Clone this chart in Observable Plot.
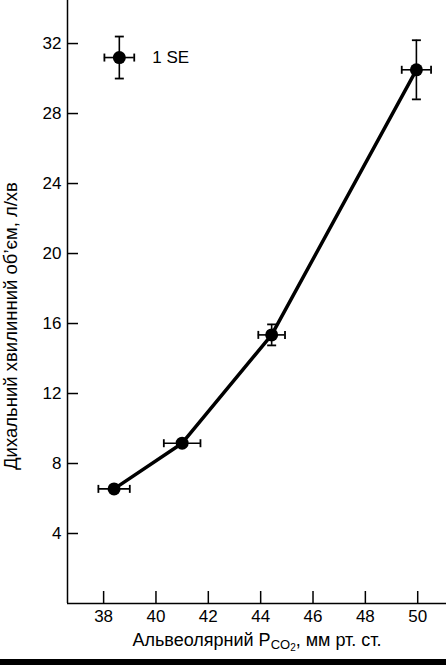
<!DOCTYPE html>
<html>
<head>
<meta charset="utf-8">
<script src="https://cdn.jsdelivr.net/npm/d3@7"></script>
<script src="https://cdn.jsdelivr.net/npm/@observablehq/plot@0.6"></script>
<style>
  html, body { margin: 0; padding: 0; background: #fff; }
  #chart { width: 446px; }
  #bar { width: 446px; height: 6px; background: #000; }
  svg { display: block; font-family: "Liberation Sans", Arial, sans-serif; }
</style>
</head>
<body>
<div id="chart"></div>
<div id="bar"></div>
<script>
// Data
const pco2 = [38.4, 41.0, 44.42, 49.95];          // Альвеолярний PCO2, мм рт. ст.
const ventilation = [6.55, 9.16, 15.35, 30.5];    // Дихальний хвилинний об'єм, л/хв
const pco2SE = [0.6, 0.7, 0.51, 0.56];
const ventSE = [0, 0, 0.6, 1.69];

const legendX = [38.6];
const legendY = [31.2];
const legendXSE = [0.57];
const legendYSE = [1.2];
const legendText = ["1 SE"];

const xTicks = [38, 40, 42, 44, 46, 48, 50];
const yTicks = [4, 8, 12, 16, 20, 24, 28, 32];
const xDomain = [36.62, 51.1];
const yDomain = [0, 34.46];

const xLabel = "Альвеолярний PCO2, мм рт. ст.";
const yLabel = "Дихальний хвилинний об’єм, л/хв";

const points = pco2.map((x, i) => ({x, y: ventilation[i], xe: pco2SE[i], ye: ventSE[i]}));
const legend = legendX.map((x, i) => ({x, y: legendY[i], xe: legendXSE[i], ye: legendYSE[i], t: legendText[i]}));
const all = points.concat(legend);
const withY = all.filter(d => d.ye > 0);

const vCap = {draw(ctx) { ctx.moveTo(0, -4); ctx.lineTo(0, 4); }};
const hCap = {draw(ctx) { ctx.moveTo(-4.5, 0); ctx.lineTo(4.5, 0); }};

const plot = Plot.plot({
  width: 446,
  height: 659,
  marginLeft: 67,
  marginRight: 0,
  marginTop: 0,
  marginBottom: 56,
  style: {fontFamily: "'Liberation Sans', Arial, sans-serif", fontSize: "17px", color: "#000", background: "#fff"},
  x: {domain: xDomain},
  y: {domain: yDomain},
  marks: [
    Plot.axisX({ticks: xTicks, tickSize: -12, tickPadding: 18, tickFormat: d => String(d), label: null, strokeWidth: 1.5, fontSize: 17}),
    Plot.axisY({ticks: yTicks, tickSize: -11, tickPadding: 17, tickFormat: d => String(d), label: null, strokeWidth: 1.5, fontSize: 17}),
    Plot.ruleY([0], {strokeWidth: 1.5}),
    Plot.ruleX([xDomain[0]], {strokeWidth: 1.5}),
    Plot.line(points, {x: "x", y: "y", strokeWidth: 3.5, stroke: "#000"}),
    // horizontal error bars
    Plot.ruleY(all, {y: "y", x1: d => d.x - d.xe, x2: d => d.x + d.xe, strokeWidth: 1.6, stroke: "#000"}),
    Plot.dot(all, {x: d => d.x - d.xe, y: "y", symbol: vCap, stroke: "#000", strokeWidth: 1.8, fill: "none", r: 4}),
    Plot.dot(all, {x: d => d.x + d.xe, y: "y", symbol: vCap, stroke: "#000", strokeWidth: 1.8, fill: "none", r: 4}),
    // vertical error bars
    Plot.ruleX(withY, {x: "x", y1: d => d.y - d.ye, y2: d => d.y + d.ye, strokeWidth: 1.6, stroke: "#000"}),
    Plot.dot(withY, {x: "x", y: d => d.y - d.ye, symbol: hCap, stroke: "#000", strokeWidth: 1.8, fill: "none", r: 4}),
    Plot.dot(withY, {x: "x", y: d => d.y + d.ye, symbol: hCap, stroke: "#000", strokeWidth: 1.8, fill: "none", r: 4}),
    Plot.dot(all, {x: "x", y: "y", r: 6.5, fill: "#000", stroke: "none"}),
    Plot.text(legend, {x: "x", y: "y", text: "t", dx: 33, textAnchor: "start", fontSize: 17, fill: "#000"}),
    Plot.text([xLabel], {frameAnchor: "bottom", dy: 37, lineAnchor: "middle", textAnchor: "middle", fontSize: 18, fill: "#000", className: "xlabel"}),
    Plot.text([yLabel], {frameAnchor: "left", dx: -56, dy: 24, rotate: -90, lineAnchor: "middle", textAnchor: "middle", fontSize: 18.5, fill: "#000"})
  ]
});
document.getElementById("chart").appendChild(plot);

// Render the subscript in the x-axis title
d3.select(plot).selectAll(".xlabel text").each(function() {
  const t = d3.select(this);
  t.text(null);
  t.append("tspan").text("Альвеолярний P");
  t.append("tspan").attr("font-size", 13).attr("dy", 3).text("CO");
  t.append("tspan").attr("font-size", 10).attr("dy", 2).text("2");
  t.append("tspan").attr("dy", -5).text(", мм рт. ст.");
});
</script>
</body>
</html>
